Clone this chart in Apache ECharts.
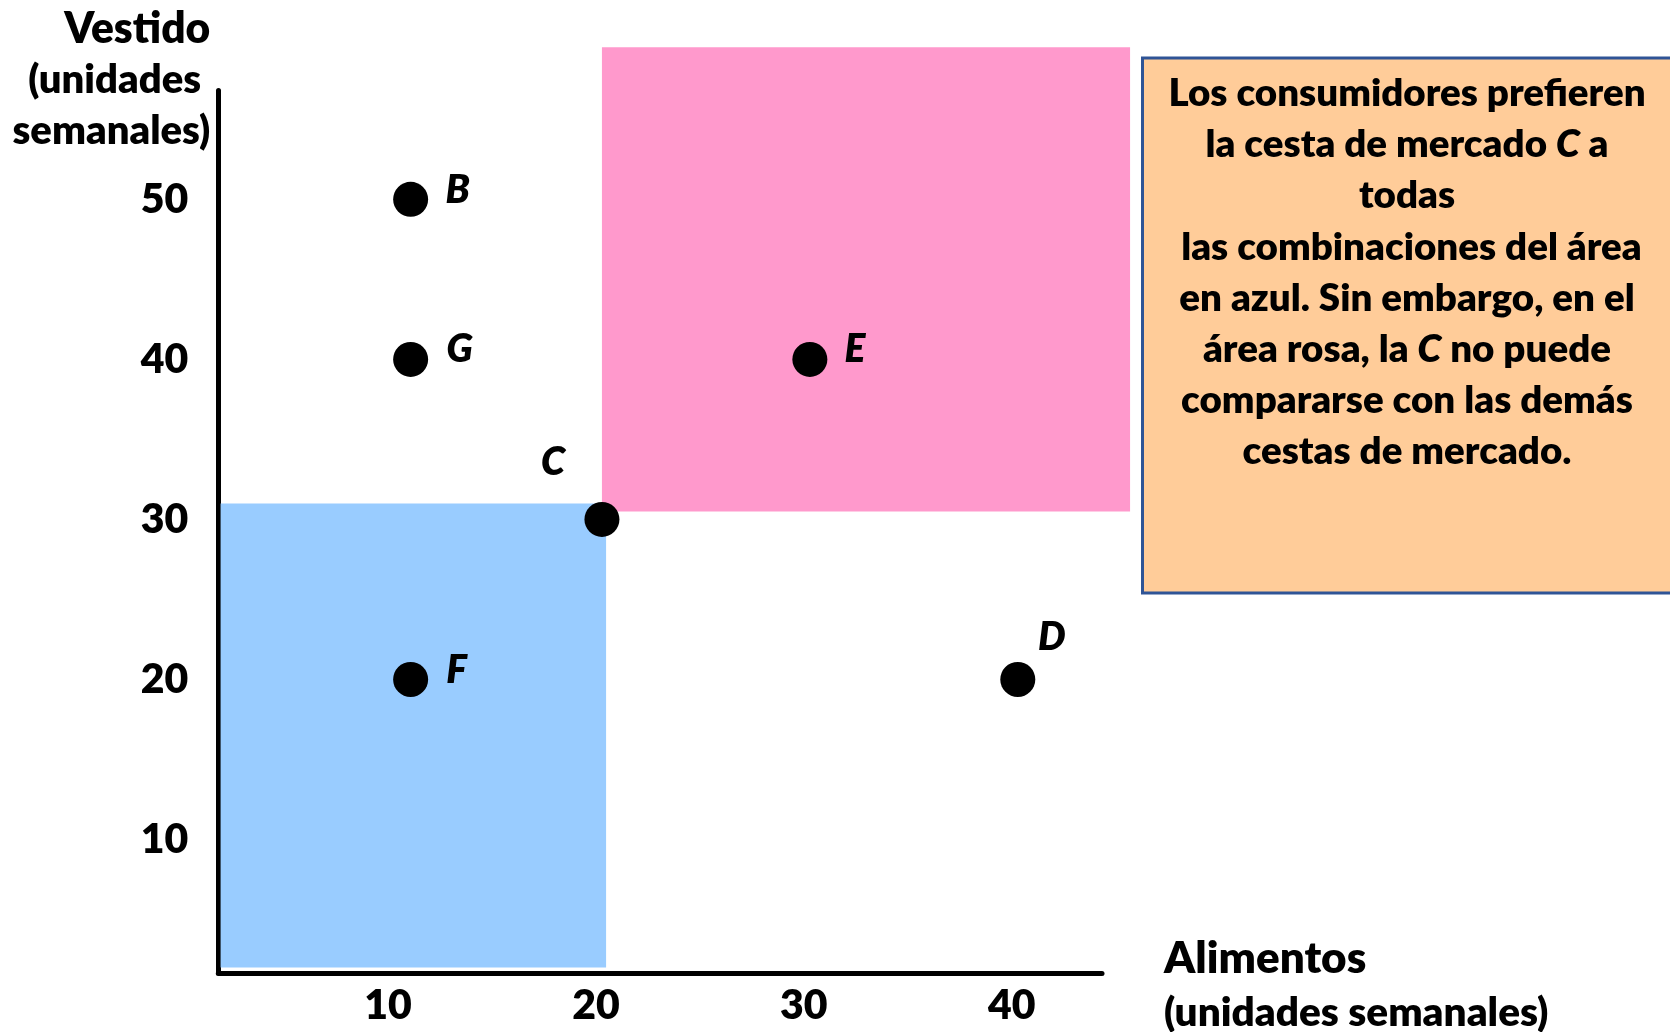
<!DOCTYPE html>
<html lang="es">
<head>
    <meta charset="UTF-8">
    <title>Cestas de mercado</title>
    <script src="https://cdn.jsdelivr.net/npm/echarts@6/dist/echarts.min.js"></script>
    <style>
        body { margin: 0; background: #ffffff; }
        #chart { width: 1670px; height: 1032px; }
    </style>
</head>
<body>
    <div id="chart"></div>

    <script>
        // cestas de mercado (alimentos, vestido)
        var basketNames = ['B', 'G', 'C', 'E', 'F', 'D'];
        var foodUnits = [10.8, 10.8, 20, 30, 10.8, 40];
        var clothingUnits = [50, 40, 30, 40, 20, 20];

        var xTickValues = [10, 20, 30, 40];
        var yTickValues = [10, 20, 30, 40, 50];

        // areas: [alimentos min, vestido min, alimentos max, vestido max]
        var blueArea = [1.66, 2.0, 20.2, 31.0];
        var pinkArea = [20, 30.5, 45.4, 59.5];

        var noteLines = [
            'Los consumidores prefieren',
            'la cesta de mercado {i|C} a',
            'todas',
            ' las combinaciones del área',
            'en azul. Sin embargo, en el',
            'área rosa, la {i|C} no puede',
            'compararse con las demás',
            'cestas de mercado.'
        ];

        var labelOffsets = {
            B: [47, -9], G: [49, -10], C: [-49, -57],
            E: [45, -10], F: [46, -9], D: [34, -42]
        };

        var FONT = 'Lato';
        var WEIGHT = 800;

        var points = basketNames.map(function (name, i) {
            return {
                name: name,
                value: [foodUnits[i], clothingUnits[i]],
                label: { offset: labelOffsets[name] }
            };
        });

        var chart = echarts.init(document.getElementById('chart'));

        var option = {
            animation: false,
            backgroundColor: '#ffffff',
            grid: { left: 218.3, right: 568, top: 90.5, bottom: 59, outerBoundsMode: 'none' },
            xAxis: {
                type: 'value',
                min: 1.55,
                max: 44.05,
                name: '{a|Alimentos}\n{b|(unidades semanales)}',
                nameLocation: 'end',
                nameGap: 62,
                nameTextStyle: {
                    fontFamily: FONT, fontWeight: WEIGHT, color: '#000',
                    align: 'left', verticalAlign: 'middle',
                    padding: [26, 0, 0, 0],
                    rich: {
                        a: { fontFamily: FONT, fontWeight: WEIGHT, fontSize: 44, lineHeight: 54, color: '#000' },
                        b: { fontFamily: FONT, fontWeight: WEIGHT, fontSize: 40.5, lineHeight: 54, color: '#000' }
                    }
                },
                axisLine: { onZero: false, lineStyle: { color: '#000', width: 5 } },
                axisTick: { show: false },
                splitLine: { show: false },
                axisLabel: {
                    customValues: xTickValues,
                    fontFamily: FONT, fontWeight: WEIGHT, fontSize: 41, color: '#000',
                    margin: 12,
                    padding: [0, 12, 0, 0]
                }
            },
            yAxis: {
                type: 'value',
                min: 1.66,
                max: 56.8,
                name: '{v|Vestido}\n{u|(unidades }\n{u|semanales)}',
                nameLocation: 'end',
                nameGap: -66,
                nameTextStyle: {
                    fontFamily: FONT, fontWeight: WEIGHT, color: '#000',
                    align: 'right', verticalAlign: 'bottom',
                    padding: [0, 8, 0, 0],
                    rich: {
                        v: { fontFamily: FONT, fontWeight: WEIGHT, fontSize: 42.5, lineHeight: 51, color: '#000' },
                        u: { fontFamily: FONT, fontWeight: WEIGHT, fontSize: 40, lineHeight: 51, color: '#000' }
                    }
                },
                axisLine: { onZero: false, lineStyle: { color: '#000', width: 5 } },
                axisTick: { show: false },
                splitLine: { show: false },
                axisLabel: {
                    customValues: yTickValues,
                    fontFamily: FONT, fontWeight: WEIGHT, fontSize: 41, color: '#000',
                    margin: 30,
                    padding: [0, 0, 20, 0]
                }
            },
            series: [
                {
                    type: 'custom',
                    clip: false,
                    z: 1,
                    silent: true,
                    data: [blueArea, pinkArea],
                    renderItem: function (params, api) {
                        var p0 = api.coord([api.value(0), api.value(3)]);
                        var p1 = api.coord([api.value(2), api.value(1)]);
                        return {
                            type: 'rect',
                            shape: { x: p0[0], y: p0[1], width: p1[0] - p0[0], height: p1[1] - p0[1] },
                            style: { fill: params.dataIndex === 0 ? '#99ccff' : '#ff99cc' }
                        };
                    }
                },
                {
                    type: 'scatter',
                    z: 3,
                    symbolSize: 35,
                    itemStyle: { color: '#000', opacity: 1 },
                    label: {
                        show: true,
                        position: 'inside',
                        formatter: '{b}',
                        fontFamily: FONT,
                        fontWeight: WEIGHT,
                        fontStyle: 'italic',
                        fontSize: 39,
                        color: '#000'
                    },
                    data: points
                }
            ],
            graphic: [
                {
                    type: 'rect',
                    shape: { x: 1142.5, y: 58, width: 560, height: 535 },
                    style: { fill: '#ffcc99', stroke: '#2f5496', lineWidth: 3 },
                    z: 5
                },
                {
                    type: 'text',
                    z: 6,
                    style: {
                        x: 1407,
                        y: 68,
                        text: noteLines.join('\n'),
                        align: 'center',
                        verticalAlign: 'top',
                        fontFamily: FONT,
                        fontWeight: WEIGHT,
                        fontSize: 38.5,
                        lineHeight: 51.2,
                        fill: '#000',
                        rich: {
                            i: {
                                fontFamily: FONT, fontWeight: WEIGHT, fontStyle: 'italic',
                                fontSize: 38.5, lineHeight: 51.2, fill: '#000'
                            }
                        }
                    }
                }
            ]
        };

        chart.setOption(option);
    </script>
</body>
</html>
